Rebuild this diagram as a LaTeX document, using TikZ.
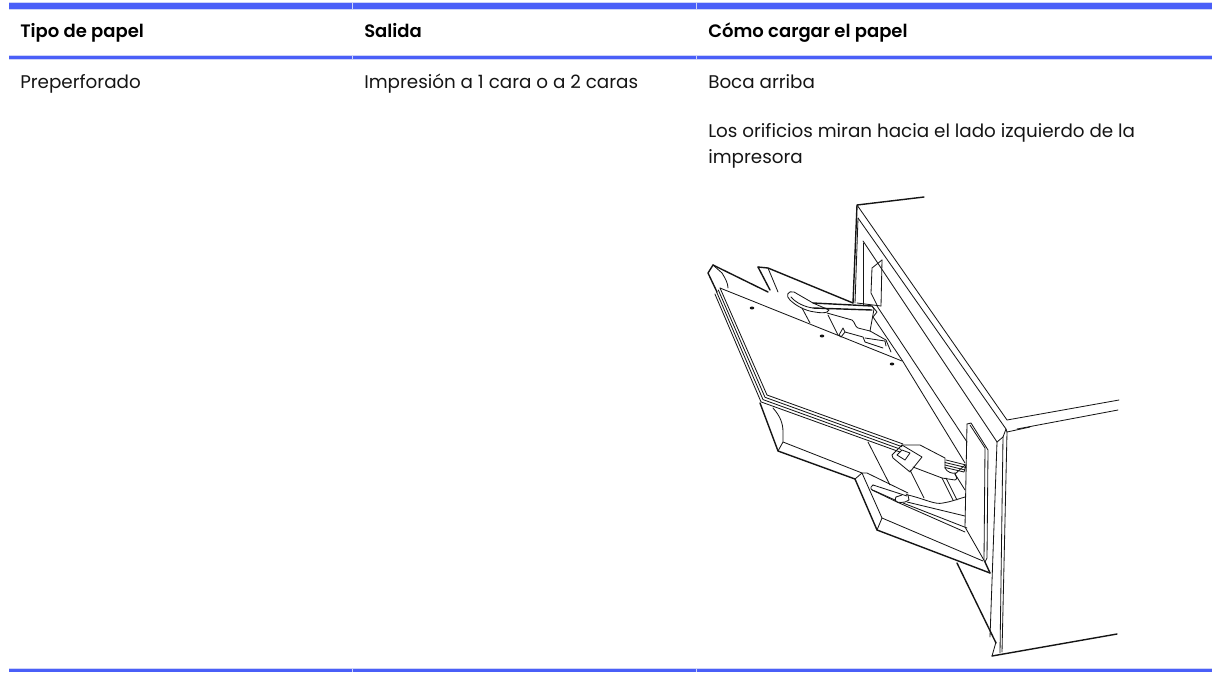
\documentclass[tikz,border=0pt]{standalone}
\usepackage{fontspec}
\setmainfont{Poppins}
\newfontfamily\headfont{Poppins SemiBold}
\usetikzlibrary{shapes.geometric}
\definecolor{barblue}{HTML}{4A5FF8}
\definecolor{barlight}{HTML}{CDD3F8}
\definecolor{inkc}{HTML}{151515}
\tikzset{
  bar/.style={fill=barblue,draw=none},
  sep/.style={fill=barlight,draw=none},
  head/.style={anchor=base west,inner sep=0pt,text=black,font=\fontsize{13.5pt}{16pt}\headfont},
  cell/.style={anchor=base west,inner sep=0pt,text=inkc,font=\fontsize{13.75pt}{16pt}\selectfont},
  ink/.style={draw=inkc,line width=0.62pt,line join=round,line cap=round},
  heavy/.style={draw=inkc,line width=1.05pt,line join=round,line cap=round},
  hole/.style={fill=inkc,draw=none,ellipse,minimum width=3.4pt,minimum height=2.2pt,inner sep=0pt}
}
\begin{document}
\begin{tikzpicture}[x=0.75pt,y=-0.75pt]
\useasboundingbox (0,0) rectangle (1217,672);
% table rules
\fill[sep] (9,2) rectangle (1212,9.5);
\fill[sep] (9,55) rectangle (1212,59.5);
\fill[sep] (9,668) rectangle (1212,672);
\fill[bar] (9,3) rectangle (352,8.7);
\fill[bar] (352.6,3) rectangle (696,8.7);
\fill[bar] (696.6,3) rectangle (1212,8.7);
\fill[bar] (9,56) rectangle (352,59);
\fill[bar] (352.6,56) rectangle (696,59);
\fill[bar] (696.6,56) rectangle (1212,59);
\fill[bar] (9,669) rectangle (352,672);
\fill[bar] (352.6,669) rectangle (696,672);
\fill[bar] (696.6,669) rectangle (1212,672);
% texts
\node[head] (h1) at (20,37) {Tipo de papel};
\node[head] (h2) at (364,37) {Salida};
\node[head] (h3) at (708,37) {Cómo cargar el papel};
\node[cell] (c1) at (20,88) {Preperforado};
\node[cell] (c2) at (364,88) {Impresión a 1 cara o a 2 caras};
\node[cell] (c3) at (708,88) {Boca arriba};
\node[cell] (c4) at (708,137) {Los orificios miran hacia el lado izquierdo de la};
\node[cell] (c5) at (708,163) {impresora};
% printer body
\draw[heavy] (924,197) -- (857,205) -- (853,303);
\draw[ink] (857,205) -- (1007,420) -- (1119,400);
\draw[ink] (858,218) -- (1006,429) -- (1003,437);
\draw[ink] (1017,429) -- (1118,410);
\draw[ink] (1007,432) -- (1030,427);
\draw[ink] (1006,429) -- (1007,432);
\draw[ink] (858,218) -- (855,303);
\draw[ink] (863,241) -- (997,442);
\draw[ink] (863,243) -- (863,305);
\draw[ink] (877,306) -- (967,442);
\draw[ink] (873,317) -- (902,360) -- (965,463);
\draw[ink] (1007,432) -- (1002,652);
\draw[ink] (1003,437) -- (1000,653);
\draw[ink] (997,442) -- (990,637);
\draw[ink] (997,442) -- (1003,437);
\draw[heavy] (992,656) -- (1117,634);
\draw[ink] (992,656) -- (996,642);
% window
\draw[ink] (882,260) -- (872,268) -- (871,293) -- (877,305);
\draw[ink] (882,260) -- (881,306);
\draw[ink] (857,303) -- (881,306);
% tray top, left wing
\draw[heavy] (713,265) -- (768,292);
\draw[heavy] (713,265) -- (708,273) -- (717,292);
\draw[ink] (713,265) -- (722,273) .. controls (725,278) and (728,283) .. (728,288);
\draw[heavy] (758,267) -- (768,268) -- (853,303);
\draw[heavy] (758,267) -- (770,290);
\draw[ink] (768,268) -- (778,292);
% paper stack (four sheets edge lines)
\draw[ink] (720,288) -- (767,395) -- (903,444);
\draw[ink] (718.3,290) -- (765,397.3) -- (902,446.7);
\draw[ink] (716.6,292) -- (763,399.6) -- (901,449.4);
\draw[ink] (714.9,294) -- (761,401.9) -- (900,452);
\draw[ink] (720,288) -- (902,361);
% stack right of tab
\draw[ink] (946,460) -- (966,465);
\draw[ink] (945,462.5) -- (966,467.5);
\draw[ink] (945,465) -- (965,470);
\draw[ink] (945,467.5) -- (964,472) -- (966,465);
% top guide
\draw[ink] (813,303) -- (794,292) .. controls (788,290) and (785,296) .. (790,300) .. controls (795,305) and (805,311) .. (815,312) .. controls (820,313) and (825,313) .. (827,312) -- (829,310) -- (813,303);
\draw[ink] (791,297) .. controls (796,303) and (805,307) .. (813,308);
\draw[heavy] (813,303) -- (872,306);
\draw[heavy] (813,308) -- (872,310);
\draw[ink] (872,306) -- (874,309) -- (870,331);
\draw[ink] (802,308) -- (810,323);
\draw[ink] (828,315) -- (838,335);
\draw[ink] (827,313) -- (852,320) .. controls (855,322) and (855,327) .. (858,328) -- (870,331);
\draw[ink] (839,335) -- (843,328) -- (845,332) -- (841,337) -- (839,335);
\draw[ink] (845,332) -- (863,337) -- (865,342) -- (883,348);
\draw[ink] (865,338) -- (885,341) -- (886,346);
\draw[ink] (870,331) -- (886,340) -- (891,352);
\draw[ink] (872,306) -- (877,312) -- (873,317);
\node[hole] (ha) at (752,308) {};
\node[hole] (hb) at (822,336) {};
\node[hole] (hc) at (892,364) {};
% lower left tray
\draw[heavy] (760,403) -- (778,451) -- (855,479);
\draw[ink] (773,408) .. controls (780,416) and (783,423) .. (783,432) -- (783,442) -- (778,451);
\draw[ink] (783,442) -- (862,473);
% front extension
\draw[heavy] (855,479) -- (877,530) -- (990,573);
\draw[ink] (862,473) -- (882,518) -- (983,561);
\draw[ink] (882,518) -- (877,530);
\draw[ink] (855,479) -- (862,473) -- (867,473) -- (908,493);
\draw[ink] (873,485) -- (907,496);
\draw[ink] (873,485) .. controls (869,488) and (871,490) .. (875,491) -- (895,500);
\draw[ink] (872,490) -- (897,502) -- (965,532);
\draw[ink] (896,497) .. controls (893,503) and (900,503) .. (905,502) -- (909,500) -- (908,495) -- (906,494);
\draw[ink] (896,497) -- (902,495);
\draw[ink] (907,502) -- (965,516);
\draw[ink] (903,503) -- (967,528);
\draw[ink] (908,495) .. controls (925,499) and (935,505) .. (943,503) .. controls (950,502) and (958,499) .. (965,497);
\draw[heavy] (957,563) -- (996,643);
% middle of tray
\draw[ink] (868,442) -- (890,485);
\draw[ink] (910,470) -- (924,498);
\draw[ink] (942,478) -- (953,500);
\draw[ink] (946,478) -- (957,500);
\draw[ink] (955,474) -- (965,490);
% tab on stack
\draw[ink] (892,455) -- (902,445) -- (922,457) -- (910,472) -- (893,458) -- (892,455);
\draw[ink] (897,455) -- (902,450) -- (910,453) -- (905,460) -- (897,455);
\draw[ink] (902,445) -- (920,445) -- (945,458) -- (945,468);
\draw[ink] (913,467) -- (942,478) -- (955,480) .. controls (958,479) and (956,476) .. (955,474);
\draw[ink] (945,468) .. controls (947,472) and (952,474) .. (956,473);
\draw[ink] (965,465) -- (955,474);
% right panel
\draw[ink] (967,424) -- (971,423) -- (988,450) -- (987,558) -- (985,562);
\draw[ink] (970,425) -- (985,448) -- (984,560);
\draw[ink] (967,424) -- (965,527) -- (985,562);
\draw[heavy] (985,562) -- (990,573);
\end{tikzpicture}
\end{document}
